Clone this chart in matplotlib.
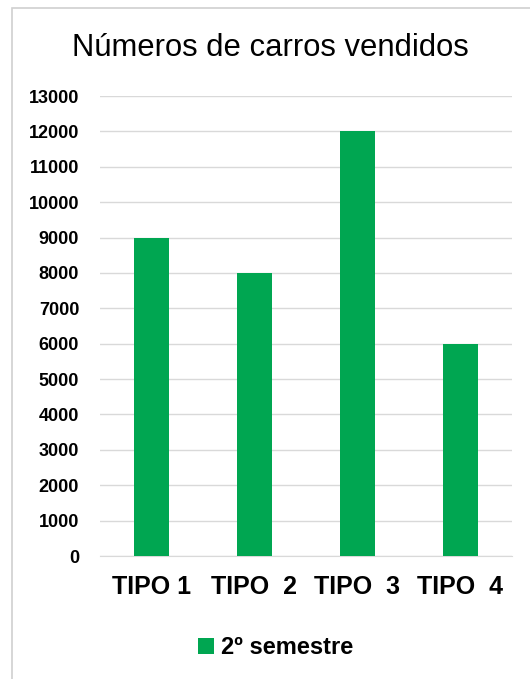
import matplotlib
matplotlib.use("Agg")
import matplotlib.pyplot as plt
from matplotlib.patches import Rectangle
from matplotlib import font_manager

# data
categorias = ['TIPO 1', 'TIPO  2', 'TIPO  3', 'TIPO  4']
vendidos = [9000, 8000, 12000, 6000]
yticks = list(range(0, 14000, 1000))

names = {f.name for f in font_manager.fontManager.ttflist}
narrow = 'Liberation Sans Narrow' if 'Liberation Sans Narrow' in names else 'Liberation Sans'
plt.rcParams['font.family'] = ['Liberation Sans', 'DejaVu Sans']

verde = '#00A651'

fig = plt.figure(figsize=(5.3, 6.79), dpi=100)
ax = fig.add_axes([0.1887, 0.1811, 0.777, 0.6775])

x = range(len(categorias))
ax.bar(x, vendidos, width=0.34, color=verde, zorder=3, label='2º semestre')

ax.set_xlim(-0.5, len(categorias) - 0.5)
ax.set_ylim(0, 13000)
ax.set_yticks(yticks)
ax.set_yticklabels([str(v) for v in yticks], fontsize=13, fontweight='bold', family=narrow)
ax.set_xticks(list(x))
ax.set_xticklabels(categorias, fontsize=18, fontweight='bold', family=narrow)
ax.tick_params(axis='both', length=0)
ax.tick_params(axis='y', pad=15)
ax.tick_params(axis='x', pad=14)

ax.grid(axis='y', color='#d9d9d9', linewidth=1, zorder=0)
for s in ['top', 'right', 'left']:
    ax.spines[s].set_visible(False)
ax.spines['bottom'].set_color('#d9d9d9')

fig.text(0.51, 0.929, 'Números de carros vendidos', ha='center', va='center', fontsize=22.3)

leg = fig.legend(loc='center', bbox_to_anchor=(0.52, 0.046), frameon=False,
                 prop={'family': narrow, 'weight': 'bold', 'size': 17},
                 handlelength=0.7, handleheight=0.7, handletextpad=0.3)

# outer chart border
fig.patches.append(Rectangle((12 / 530, -0.1), 1.2, (679 - 8) / 679 + 0.1,
                             transform=fig.transFigure, fill=False,
                             edgecolor='#d0d0d0', linewidth=1.2))

fig.savefig('out.png', dpi=100)
